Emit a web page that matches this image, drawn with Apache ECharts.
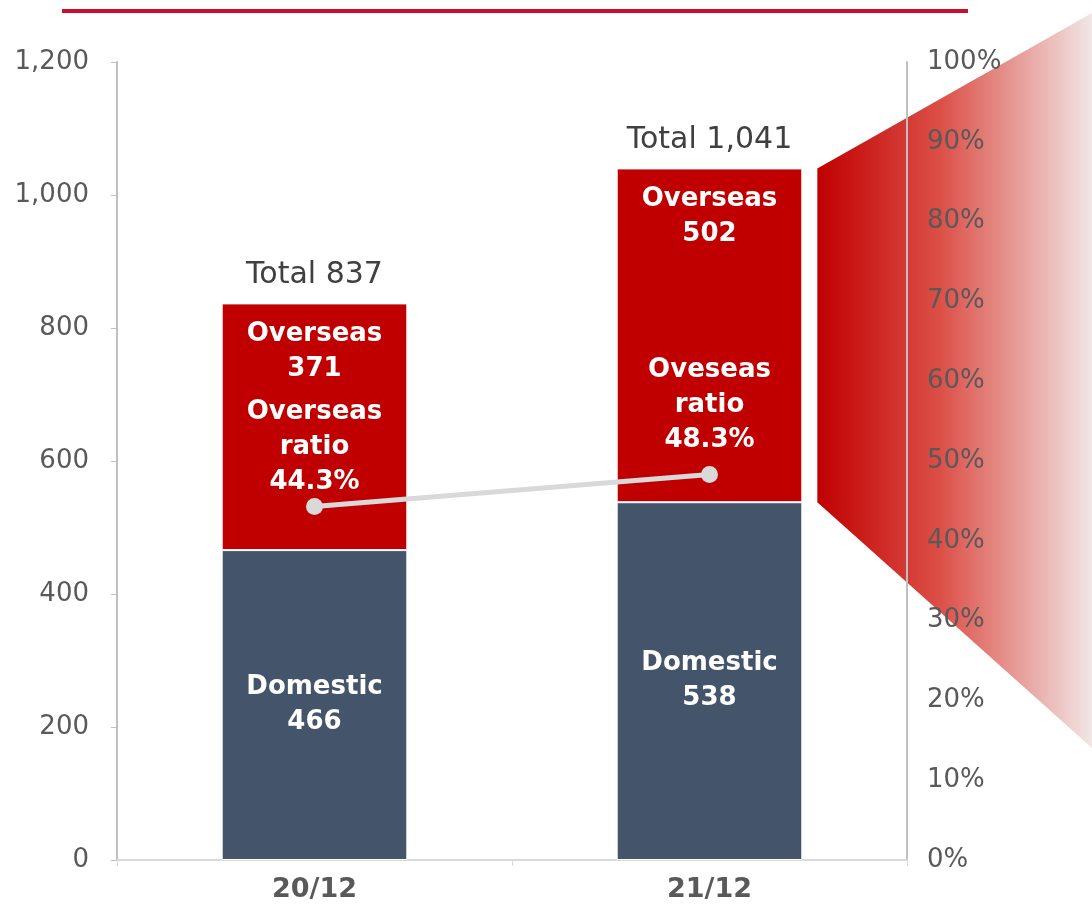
<!DOCTYPE html>
<html>
<head>
<meta charset="utf-8">
<script src="https://cdn.jsdelivr.net/npm/echarts@6/dist/echarts.min.js"></script>
<style>html,body{margin:0;padding:0;background:#fff;}#c{width:1092px;height:904px;}</style>
</head>
<body>
<div id="c"></div>
<script>
const categories = ['20/12', '21/12'];
const domestic = [466, 538];
const overseas = [371, 502];
const totals = [837, 1041];
const ratio = [44.3, 48.3];
const ratioLabels = ['Overseas\nratio\n44.3%', 'Oveseas\nratio\n48.3%'];
const leftTicks = { min: 0, max: 1200, interval: 200 };
const rightTicks = { min: 0, max: 100, interval: 10 };

const FONT = 'DejaVu Sans';
const ratioLabelOffset = [[0, 8], [0, -2]];
const chart = echarts.init(document.getElementById('c'));

const option = {
  animation: false,
  textStyle: { fontFamily: FONT },
  grid: { left: 117, right: 185, top: 62, bottom: 44 },
  xAxis: {
    type: 'category',
    data: categories,
    zlevel: 1, z: 4,
    axisLine: { lineStyle: { color: '#d9d9d9', width: 2 } },
    axisTick: { show: true, length: 6, lineStyle: { color: '#d9d9d9' } },
    axisLabel: { color: '#595959', fontSize: 27, fontWeight: 'bold', margin: 16, fontFamily: FONT }
  },
  yAxis: [
    {
      type: 'value', min: leftTicks.min, max: leftTicks.max, interval: leftTicks.interval,
      zlevel: 1, z: 4,
      axisLine: { show: true, lineStyle: { color: '#bfbfbf', width: 2 } },
      axisTick: { show: true, length: 6, lineStyle: { color: '#bfbfbf' } },
      splitLine: { show: false },
      axisLabel: {
        color: '#595959', fontSize: 26, margin: 28, fontFamily: FONT,
        formatter: v => v.toLocaleString('en-US')
      }
    },
    {
      type: 'value', min: rightTicks.min, max: rightTicks.max, interval: rightTicks.interval,
      position: 'right',
      zlevel: 1, z: 4,
      axisLine: { show: true, lineStyle: { color: '#bfbfbf', width: 2 } },
      axisTick: { show: false },
      splitLine: { show: false },
      axisLabel: { color: '#595959', fontSize: 26, margin: 20, fontFamily: FONT, formatter: '{value}%' }
    }
  ],
  series: [
    {
      name: 'Domestic', type: 'bar', stack: 'gp', barWidth: '47%', zlevel: 1, z: 5,
      data: domestic,
      itemStyle: { color: '#44546a', borderColor: '#ffffff', borderWidth: 1 },
      label: {
        show: true, position: 'inside', color: '#fff', fontSize: 26, fontWeight: 'bold', lineHeight: 35, fontFamily: FONT,
        formatter: p => 'Domestic\n' + p.value
      }
    },
    {
      name: 'Overseas', type: 'bar', stack: 'gp', zlevel: 1, z: 5,
      data: overseas,
      itemStyle: { color: '#c00000', borderColor: '#ffffff', borderWidth: 1 },
      label: {
        show: true, position: 'insideTop', distance: 13, color: '#fff', fontSize: 26, fontWeight: 'bold', lineHeight: 35, fontFamily: FONT,
        formatter: p => 'Overseas\n' + p.value
      }
    },
    {
      name: 'Total', type: 'bar', stack: 'gp', zlevel: 1, z: 5,
      data: totals.map(() => 0),
      itemStyle: { color: 'transparent' },
      label: {
        show: true, position: 'top', distance: 13, color: '#404040', fontSize: 30, fontFamily: FONT,
        formatter: p => 'Total ' + totals[p.dataIndex].toLocaleString('en-US')
      }
    },
    {
      name: 'Overseas ratio', type: 'line', yAxisIndex: 1, zlevel: 1, z: 6,
      data: ratio.map((v, i) => ({ value: v, label: { offset: ratioLabelOffset[i] } })),
      symbol: 'circle', symbolSize: 17,
      lineStyle: { color: '#d9d9d9', width: 5 },
      itemStyle: { color: '#d9d9d9' },
      label: {
        show: true, position: 'top', distance: 6, color: '#fff', fontSize: 26, fontWeight: 'bold', lineHeight: 35, fontFamily: FONT,
        formatter: p => ratioLabels[p.dataIndex]
      }
    }
  ]
};
chart.setOption(option);

// decorative elements positioned from the chart's own scales
const c0 = chart.convertToPixel({ xAxisIndex: 0 }, categories[0]);
const c1 = chart.convertToPixel({ xAxisIndex: 0 }, categories[1]);
const band = c1 - c0;
const barRight = c1 + band * 0.235;
const yTop = chart.convertToPixel({ yAxisIndex: 0 }, domestic[1] + overseas[1]);
const yBot = chart.convertToPixel({ yAxisIndex: 0 }, domestic[1]);
const W = chart.getWidth();
const x0 = barRight + 15;
chart.setOption({
  graphic: [
    {
      type: 'polygon', zlevel: 0, z: 0, silent: true,
      shape: { points: [[x0, yTop], [W, 13], [W, 748], [x0, yBot]] },
      style: {
        fill: new echarts.graphic.LinearGradient(0, 0, 1, 0, [
          { offset: 0, color: '#c00000' },
          { offset: 0.45, color: '#dc5048' },
          { offset: 1, color: '#f1e6e6' }
        ])
      }
    },
    {
      type: 'rect', zlevel: 1, z: 10, silent: true,
      shape: { x: 62, y: 9, width: 906, height: 4 },
      style: { fill: '#c8102e' }
    }
  ]
});
</script>
</body>
</html>
